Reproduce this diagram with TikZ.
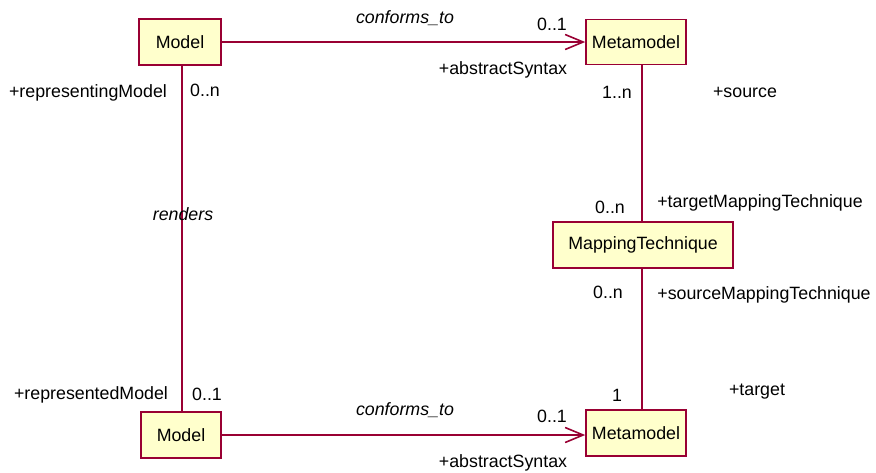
\documentclass[tikz,border=0pt]{standalone}
\usepackage{fontspec}
\setmainfont{Liberation Sans}
\usetikzlibrary{arrows.meta}
\definecolor{umlline}{RGB}{153,0,51}
\definecolor{umlfill}{RGB}{255,255,204}
\tikzset{
  classbox/.style={draw=umlline, fill=umlfill, line width=1.6pt, inner sep=0pt,
    font=\fontsize{17.8}{20}\selectfont},
  assoc/.style={draw=umlline, line width=1.6pt},
  conforms/.style={assoc, -{Straight Barb[length=18pt,width=15pt,line width=1.6pt]}},
  rolelabel/.style={inner sep=0pt, font=\fontsize{17.8}{20}\selectfont},
  namelabel/.style={rolelabel, font=\fontsize{17.8}{20}\selectfont\itshape}
}
\begin{document}
\begin{tikzpicture}[x=1pt,y=-1pt]
  \useasboundingbox (0,0) rectangle (876,472);

  % classes
  \node [classbox, minimum width=82pt, minimum height=46pt] (modelA) at (180,42) {Model};
  \node [classbox, minimum width=100pt, minimum height=45pt] (metaA) at (636,42) {Metamodel};
  \node [classbox, minimum width=180pt, minimum height=46pt] (technique) at (643,245) {MappingTechnique};
  \node [classbox, minimum width=80pt, minimum height=46pt] (modelB) at (181,435) {Model};
  \node [classbox, minimum width=100pt, minimum height=46pt] (metaB) at (636,433) {Metamodel};

  % associations
  \draw [conforms] (modelA.east) -- (metaA.west);
  \draw [conforms] (modelB.east) -- (metaB.west |- modelB.east);
  \draw [assoc] (modelA.south -| 182,0) -- (modelB.north -| 182,0);
  \draw [assoc] (technique.north -| 642,0) -- (metaA.south -| 642,0);
  \draw [assoc] (technique.south -| 642,0) -- (metaB.north -| 642,0);

  % association names
  \node [namelabel] (confA) at (405,18) {conforms\_to};
  \node [namelabel] (confB) at (405,410) {conforms\_to};
  \node [namelabel] (rend) at (183,214) {renders};

  % roles and multiplicities
  \node [rolelabel] (multA) at (552,24) {0..1};
  \node [rolelabel] (absA) at (503,70) {+abstractSyntax};
  \node [rolelabel] (multB) at (552,416) {0..1};
  \node [rolelabel] (absB) at (503,463) {+abstractSyntax};
  \node [rolelabel] (reping) at (88,93) {+representingModel};
  \node [rolelabel] (multC) at (205,90) {0..n};
  \node [rolelabel] (reped) at (91,395) {+representedModel};
  \node [rolelabel] (multD) at (207,394) {0..1};
  \node [rolelabel] (multE) at (617,92) {1..n};
  \node [rolelabel] (src) at (745,92) {+source};
  \node [rolelabel] (multF) at (610,207) {0..n};
  \node [rolelabel] (tgtMT) at (760,203) {+targetMappingTechnique};
  \node [rolelabel] (multG) at (608,292) {0..n};
  \node [rolelabel] (srcMT) at (764,295) {+sourceMappingTechnique};
  \node [rolelabel] (multH) at (617,395) {1};
  \node [rolelabel] (tgt) at (757,392) {+target};
\end{tikzpicture}
\end{document}
